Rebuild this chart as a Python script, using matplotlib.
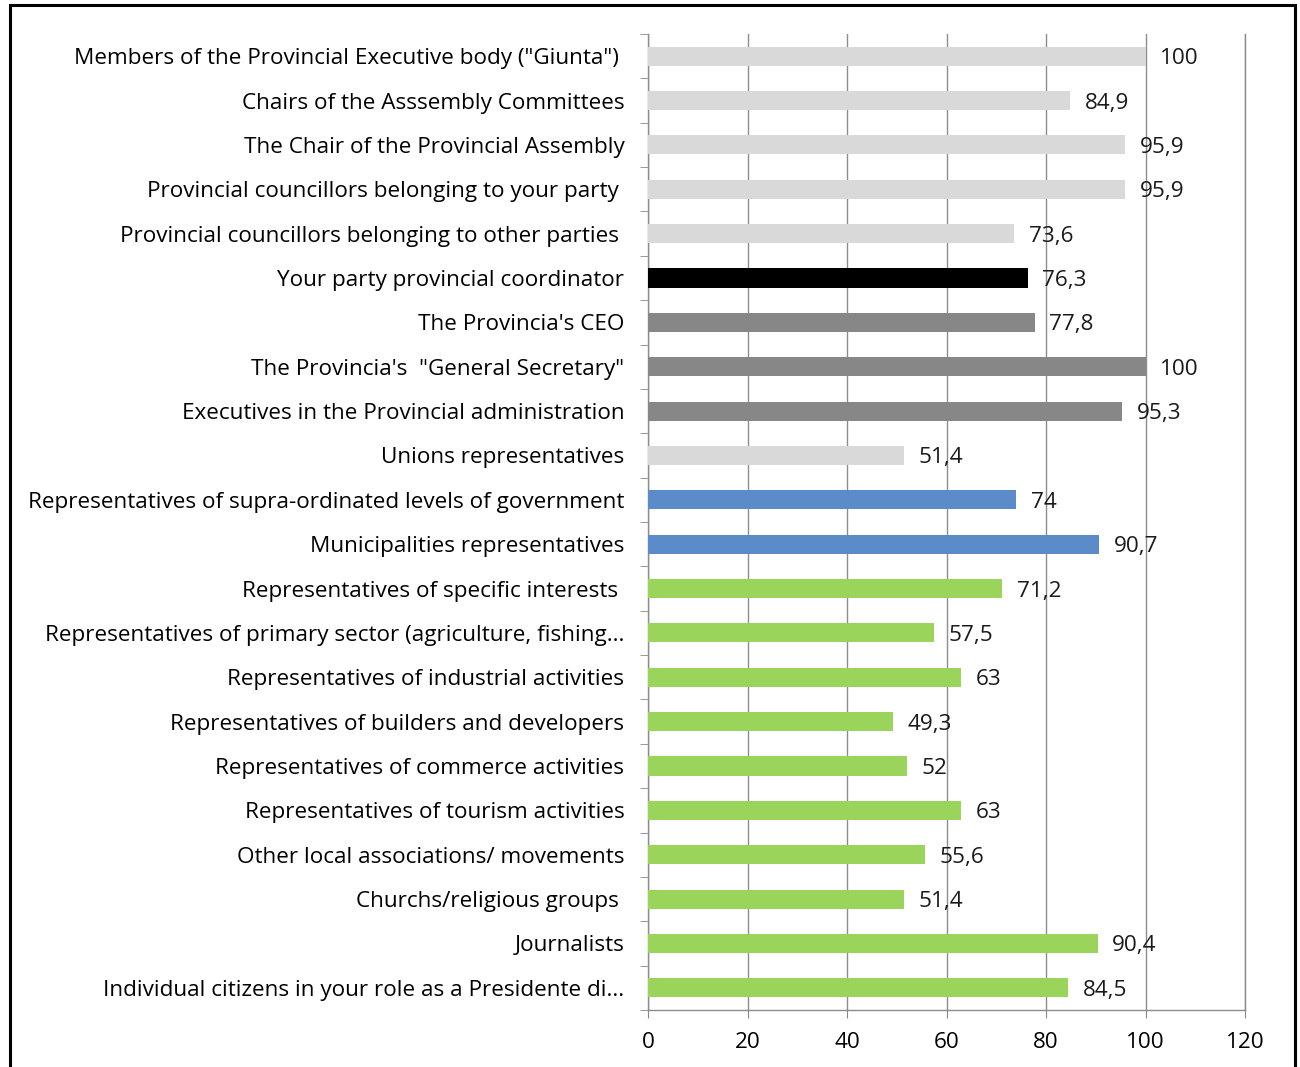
import matplotlib.pyplot as plt
from matplotlib.patches import Rectangle
from matplotlib.ticker import FixedLocator

categories = [
    'Members of the Provincial Executive body ("Giunta") ',
    'Chairs of the Asssembly Committees',
    'The Chair of the Provincial Assembly',
    'Provincial councillors belonging to your party ',
    'Provincial councillors belonging to other parties ',
    'Your party provincial coordinator',
    "The Provincia's CEO",
    'The Provincia\'s  "General Secretary"',
    'Executives in the Provincial administration',
    'Unions representatives',
    'Representatives of supra-ordinated levels of government',
    'Municipalities representatives',
    'Representatives of specific interests ',
    'Representatives of primary sector (agriculture, fishing...',
    'Representatives of industrial activities',
    'Representatives of builders and developers',
    'Representatives of commerce activities',
    'Representatives of tourism activities',
    'Other local associations/ movements',
    'Churchs/religious groups ',
    'Journalists',
    'Individual citizens in your role as a Presidente di...',
]
values = [100, 84.9, 95.9, 95.9, 73.6, 76.3, 77.8, 100, 95.3, 51.4, 74, 90.7,
          71.2, 57.5, 63, 49.3, 52, 63, 55.6, 51.4, 90.4, 84.5]
groups = ['light'] * 5 + ['black'] + ['gray'] * 3 + ['light'] + ['blue'] * 2 + ['green'] * 10
palette = {'light': '#D9D9D9', 'black': '#000000', 'gray': '#878787',
           'blue': '#5B8BC9', 'green': '#9BD45A'}
xticks = [0, 20, 40, 60, 80, 100, 120]

plt.rcParams['font.family'] = ['Open Sans', 'DejaVu Sans']
fs = 16.2

fig = plt.figure(figsize=(13, 10.67), dpi=100)
ax = fig.add_axes([648 / 1300, 1 - 1010 / 1067, (1245 - 648) / 1300, (1010 - 34) / 1067])

n = len(categories)
ypos = list(range(n))
ax.barh(ypos, values, height=0.43, color=[palette[g] for g in groups], zorder=3)

for y, v in zip(ypos, values):
    label = f'{v:g}'.replace('.', ',')
    ax.text(v + 2.9, y, label, va='center_baseline', ha='left', fontsize=fs,
            color='#1a1a1a', zorder=4)

ax.set_xlim(0, 120)
ax.set_ylim(n - 0.5, -0.5)
ax.set_xticks(xticks)
ax.set_xticklabels([str(t) for t in xticks], fontsize=fs)
ax.set_yticks(ypos)
ax.set_yticklabels(categories, fontsize=fs)
ax.yaxis.set_minor_locator(FixedLocator([i - 0.5 for i in range(n + 1)]))
ax.tick_params(axis='y', which='major', length=0, pad=17)
ax.tick_params(axis='y', which='minor', length=6, color='#888888')
ax.tick_params(axis='x', length=6, color='#888888', pad=10)

ax.grid(axis='x', color='#8C8C8C', linewidth=1, zorder=0)
ax.spines['top'].set_visible(False)
for s in ['left', 'bottom', 'right']:
    ax.spines[s].set_color('#8C8C8C')
    ax.spines[s].set_linewidth(1)

fig.patches.append(Rectangle((10 / 1300, -0.05), 1285 / 1300, 1 - 5 / 1067 + 0.05,
                             transform=fig.transFigure, fill=False,
                             edgecolor='black', linewidth=2.2))

fig.savefig('out.png', dpi=100)
